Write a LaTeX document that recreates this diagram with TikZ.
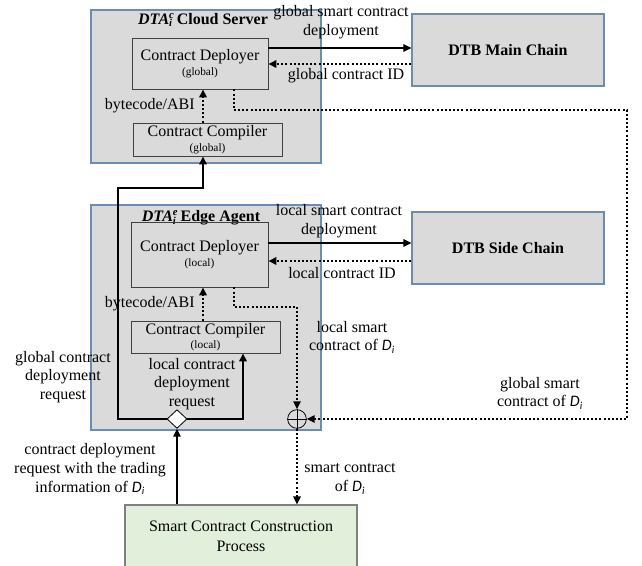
\documentclass[tikz,border=0pt]{standalone}
\usepackage{fontspec}
\setmainfont{Liberation Serif}
\newfontfamily\calfont{Carlito}
\usetikzlibrary{positioning,arrows.meta,calc,fit,shapes.geometric}
\definecolor{boxgray}{HTML}{DADADA}
\definecolor{frameblue}{HTML}{6C8DB0}
\definecolor{procgreen}{HTML}{E2EFDA}
\newcommand{\Di}{{\calfont\itshape D\textsubscript{i}}}
\newcommand{\dta}[1]{\textbf{\textit{DTA}\rlap{\textsuperscript{\textit{#1}}}\textsubscript{\textit{i}}}}
\newcommand{\tagfont}{\fontsize{8.5}{10}\selectfont}

\begin{document}
\begin{tikzpicture}[x=0.75pt, y=-0.75pt,
  font=\fontsize{12}{14}\selectfont,
  frame/.style={draw=frameblue, fill=boxgray, line width=0.8pt, inner sep=0pt},
  unit/.style={draw=black!75, line width=0.6pt, align=center, inner sep=1pt},
  chain/.style={draw=frameblue, fill=boxgray, line width=0.8pt, font=\fontsize{12}{14}\selectfont\bfseries,
               minimum width=144pt, minimum height=54pt},
  proc/.style={draw=gray, fill=procgreen, line width=0.8pt, align=center,
               minimum width=174pt, minimum height=46.5pt},
  lbl/.style={align=center, inner sep=0pt},
  arr/.style={line width=2.2pt, -{Triangle[length=6pt,width=5.5pt]}},
  darr/.style={line width=1.9pt, dash pattern=on 1.5pt off 1.6pt, -{Triangle[length=6pt,width=5.5pt]}}]
\useasboundingbox (0,0) rectangle (642,565);
% containers
\node[frame, fit={(91,10) (321,163)}] (cloud) {};
\node[frame, fit={(91,205) (321,430)}] (edge) {};
\node[inner sep=1pt] at (203,20) (cloudtitle) {\dta{c} \textbf{Cloud Server}};
\node[inner sep=1pt] at (201,218) (edgetitle) {\dta{e} \textbf{Edge Agent}};
% units
\node[unit, minimum width=102pt, minimum height=38.25pt] (depg) at (200,63.5)
  {Contract Deployer\\[-3pt]{\tagfont (global)}};
\node[unit, minimum width=111.75pt, minimum height=24.75pt] (compg) at (207.5,139.5)
  {Contract Compiler\\[-3pt]{\tagfont (global)}};
\node[unit, minimum width=102.75pt, minimum height=48.75pt] (depl) at (199.5,254.5)
  {Contract Deployer\\[-3pt]{\tagfont (local)}};
\node[unit, minimum width=111.75pt, minimum height=24pt] (compl) at (205.5,337)
  {Contract Compiler\\[-3pt]{\tagfont (local)}};
\node[chain] (mainc) at (508,50) {DTB Main Chain};
\node[chain] (sidec) at (508,248) {DTB Side Chain};
\node[proc] (constr) at (241,536) {Smart Contract Construction\\[1pt]Process};
% junctions
\node[diamond, draw, fill=white, line width=0.6pt, inner sep=0pt, minimum width=15pt, minimum height=14pt] (dia) at (177,419) {};
\node[circle, draw, line width=0.6pt, inner sep=0pt, minimum size=14pt] (sum) at (297,419) {};
\draw[line width=0.6pt] (sum.north) -- (sum.south) (sum.west) -- (sum.east);
% helper coordinates
\coordinate (gx) at (203,0);
\coordinate (lx) at (243,0);
\coordinate (rx) at (234,0);
\coordinate (bendL) at (118,188);
\coordinate (farR) at (627,110);
\coordinate (lbend) at (297,307);
\coordinate (rowA) at (0,48);
\coordinate (rowB) at (0,64);
\coordinate (rowC) at (0,243);
\coordinate (rowD) at (0,261);
% deployment to chains
\draw[arr] (depg.east |- rowA) -- (mainc.west |- rowA);
\draw[darr] (mainc.west |- rowB) -- (depg.east |- rowB);
\draw[arr] (depl.east |- rowC) -- (sidec.west |- rowC);
\draw[darr] (sidec.west |- rowD) -- (depl.east |- rowD);
\node[lbl] at (341,22) {global smart contract\\deployment};
\node[lbl] at (346,76) {global contract ID};
\node[lbl] at (339,221) {local smart contract\\deployment};
\node[lbl] at (342,273) {local contract ID};
% compile
\draw[darr] (compg.north -| gx) -- node[left=2pt] {bytecode/ABI} (depg.south -| gx);
\draw[darr] (compl.north -| gx) -- node[left=2pt] {bytecode/ABI} (depl.south -| gx);
% requests
\draw[arr] (constr.north -| dia) -- (dia.south);
\draw[arr] (dia.west) -| (bendL) -| (compg.south -| gx);
\draw[arr] (dia.east) -| (compl.south -| lx);
\node[lbl] at (63,377) {global contract\\deployment\\request};
\node[lbl] at (192,384) {local contract\\deployment\\request};
\node[lbl] at (90,469) {contract deployment\\request with the trading\\information of \Di};
% contracts back
\draw[darr] (depg.south -| rx) |- (farR) |- (sum.east);
\draw[darr] (depl.south -| rx) |- (lbend) -- (sum.north);
\draw[darr] (sum.south) -- (sum.south |- constr.north);
\node[lbl] at (352,337) {local smart\\contract of \Di};
\node[lbl] at (540,393) {global smart\\contract of \Di};
\node[lbl] at (350,479) {smart contract\\of \Di};
\end{tikzpicture}
\end{document}
